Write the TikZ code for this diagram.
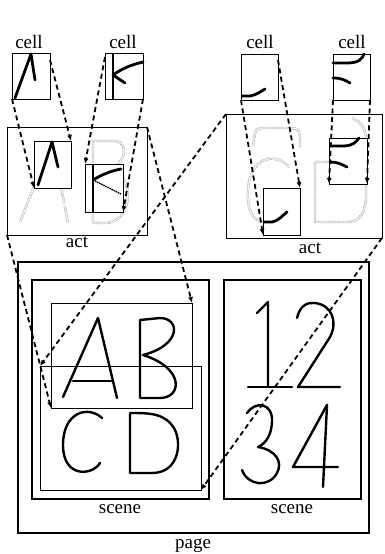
\documentclass[tikz,border=0pt]{standalone}
\usepackage{fontspec}
\setmainfont{Liberation Serif}
\usetikzlibrary{arrows.meta,calc}
\begin{document}
\begin{tikzpicture}[x=1pt,y=-1pt,
  box/.style={draw, line width=0.8pt, inner sep=0pt, outer sep=0pt, anchor=north west, fill=white},
  frame/.style={draw, inner sep=0pt, outer sep=0pt, anchor=north west},
  lbl/.style={font=\fontsize{19}{21}\selectfont, anchor=base, inner sep=0pt},
  ink/.style={line width=2.8pt, line cap=round, line join=round},
  pen/.style={line width=2.4pt, line cap=round, line join=round},
  ghost/.style={draw=black!40, line width=0.5pt, double=white, double distance=1.4pt, dash pattern=on 1.2pt off 0.7pt},
  dasharrow/.style={line width=1.8pt, dash pattern=on 5pt off 3.5pt, -{Latex[length=6pt,width=5pt]}},
]
\useasboundingbox (0,0) rectangle (384,554);

% ---------- page and scenes ----------
\node[frame, line width=1.8pt, minimum width=351pt, minimum height=271pt] (page) at (18,262) {};
\node[frame, line width=1.3pt, minimum width=177pt, minimum height=219pt] (lscene) at (32,280) {};
\node[frame, line width=1.3pt, minimum width=137pt, minimum height=219pt] (rscene) at (224,280) {};
\node[lbl] (pagelbl) at (193,548) {page};
\node[lbl] (lscenelbl) at (120,513) {scene};
\node[lbl] (rscenelbl) at (292,513) {scene};

% letters in left scene
\draw[pen] (63,397) -- (98,318) -- (117,398);
\draw[pen] (73,381) -- (112,381);
\draw[pen] (140,398) -- (140,320) -- (160,318) .. controls (180,318) and (182,345) .. (143,355)
  .. controls (185,368) and (182,398) .. (160,398) -- (140,398);
\draw[pen] (102,418) .. controls (88,405) and (63,412) .. (63,445) .. controls (63,478) and (92,476) .. (100,463);
\draw[pen] (130,413) -- (130,473) -- (152,473) .. controls (178,473) and (182,445) .. (175,430)
  .. controls (166,413) and (150,413) .. (130,413);

% digits in right scene
\draw[pen] (257,313) -- (268,302) -- (268,387);
\draw[pen] (248,387) -- (292,387);
\draw[pen] (297,318) .. controls (300,305) and (308,302) .. (315,303) .. controls (332,305) and (338,322) .. (330,337)
  -- (298,387) -- (340,387);
\draw[pen] (247,413) .. controls (255,401) and (273,402) .. (272,422) .. controls (271,440) and (262,445) .. (258,447)
  .. controls (276,450) and (283,462) .. (277,473) .. controls (269,488) and (248,486) .. (242,470);
\draw[pen] (327,405) -- (293,467) -- (338,467);
\draw[pen] (327,405) -- (323,487);

% inset boxes in left scene
\node[frame, line width=0.8pt, minimum width=141pt, minimum height=105pt] (abbox) at (51,303) {};
\node[frame, line width=0.8pt, minimum width=161pt, minimum height=124pt] (cdbox) at (40,366) {};

% ---------- top cells ----------
\node[box, minimum width=38pt, minimum height=46pt] (c1) at (12,53) {};
\node[box, minimum width=38pt, minimum height=46pt] (c2) at (105,53) {};
\node[box, minimum width=37pt, minimum height=46pt] (c3) at (241,54) {};
\node[box, minimum width=37pt, minimum height=46pt] (c4) at (333,54) {};
\node[lbl] (c1lbl) at (29,48) {cell};
\node[lbl] (c2lbl) at (123,48) {cell};
\node[lbl] (c3lbl) at (260,48) {cell};
\node[lbl] (c4lbl) at (352,48) {cell};

\begin{scope}[shift={(c1.north west)}]
  \draw[ink] (3,45) -- (19,1) -- (23,27);
\end{scope}
\begin{scope}[shift={(c2.north west)}]
  \draw[ink, line cap=butt] (8,0) -- (8,46);
  \draw[ink] (8,22) .. controls (18,15) and (26,12) .. (38,9);
  \draw[ink] (8,22) -- (20,30);
\end{scope}
\begin{scope}[shift={(c3.north west)}]
  \draw[ink] (1,42) -- (9,42) .. controls (15,41) and (19,38) .. (24,35);
\end{scope}
\begin{scope}[shift={(c4.north west)}]
  \draw[ink] (0,9) -- (14,9) .. controls (26,9) and (29,5) .. (31,0);
  \draw[ink] (0,24) .. controls (8,24) and (12,26) .. (17,29);
\end{scope}

% ---------- left act ----------
\node[box, minimum width=140pt, minimum height=108pt] (lact) at (7,127) {};
\node[lbl] (lactlbl) at (77,247) {act};
\draw[ghost] (20,222) -- (52,141) -- (68,223);
\draw[ghost] (29,205) -- (66,205);
\draw[ghost] (93,223) -- (93,141) -- (115,141) .. controls (127,141) and (128,160) .. (112,168)
  .. controls (134,175) and (134,223) .. (105,223) -- (93,223);
\node[box, minimum width=37pt, minimum height=47pt] (ca) at (34,141) {};
\node[box, minimum width=38pt, minimum height=48pt] (cb) at (85,164) {};
\begin{scope}[shift={(ca.north west)}]
  \draw[ink] (4,44) -- (18,1) -- (24,26);
\end{scope}
\begin{scope}[shift={(cb.north west)}]
  \draw[ink, line cap=butt] (8,0) -- (8,48);
  \draw[ink] (8,16) .. controls (18,10) and (26,7) .. (36,5);
  \draw[line width=1.4pt, dash pattern=on 1.5pt off 0.8pt] (10,17) -- (36,30);
\end{scope}

% ---------- right act ----------
\node[box, minimum width=156pt, minimum height=124pt] (ract) at (226,114) {};
\node[lbl] (ractlbl) at (310,253) {act};
\draw[ghost] (253,146) -- (255,133) .. controls (256,129) and (259,128) .. (263,128) -- (292,128)
  .. controls (298,128) and (300,132) .. (300,138) -- (300,147);
\draw[ghost] (289,167) .. controls (276,152) and (250,156) .. (248,190) .. controls (247,214) and (254,220) .. (263,222);
\draw[ghost] (322,118) -- (322,140);
\draw[ghost] (352,118) .. controls (360,121) and (366,128) .. (366,140) -- (366,195)
  .. controls (366,212) and (360,222) .. (348,222) -- (315,222) -- (315,162) -- (329,162);
\node[box, minimum width=37pt, minimum height=47pt] (cc) at (263,188) {};
\node[box, minimum width=38pt, minimum height=46pt] (cd) at (329,138) {};
\begin{scope}[shift={(cc.north west)}]
  \draw[ink] (1,34) -- (9,34) .. controls (15,33) and (19,28) .. (24,24);
\end{scope}
\begin{scope}[shift={(cd.north west)}]
  \draw[ink] (1,8) -- (14,8) .. controls (24,8) and (27,4) .. (30,0);
  \draw[ink] (1,24) .. controls (8,24) and (12,26) .. (18,29);
\end{scope}

% ---------- dashed connectors ----------
\draw[dasharrow] (c1.south west) -- (ca.south west);
\draw[dasharrow] ($(c1.north east)+(0,7)$) -- (ca.north east);
\draw[dasharrow] ($(c2.north west)+(0,4)$) -- (cb.north west);
\draw[dasharrow] (c2.south east) -- (cb.south east);
\draw[dasharrow] (c3.south west) -- (cc.south west);
\draw[dasharrow] ($(c3.north east)+(0,6)$) -- (cc.north east);
\draw[dasharrow] (c4.south west) -- (cd.south west);
\draw[dasharrow] (c4.south east) -- (cd.south east);
\draw[dasharrow] (lact.north east) -- (abbox.north east);
\draw[dasharrow] (lact.south west) -- (abbox.south west);
\draw[dasharrow] (ract.north west) -- (cdbox.north west);
\draw[dasharrow] (ract.south east) -- (cdbox.south east);
\end{tikzpicture}
\end{document}
